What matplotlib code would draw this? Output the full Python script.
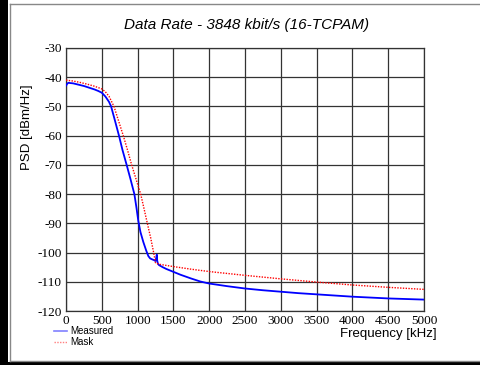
import matplotlib
matplotlib.use("Agg")
import matplotlib.pyplot as plt
from matplotlib.patches import Rectangle
from matplotlib.lines import Line2D

plt.rcParams["axes.unicode_minus"] = False

# ---- data ----
title = "Data Rate - 3848 kbit/s (16-TCPAM)"
xlabel = "Frequency [kHz]"
ylabel = "PSD [dBm/Hz]"
series_names = ["Measured", "Mask"]

measured_f = [0, 15, 33, 60, 100, 150, 200, 250, 300, 350, 400, 450, 500, 550, 600, 630,
              680, 740, 790, 847, 900, 955, 985, 1010, 1040, 1080, 1120, 1150, 1175, 1200,
              1230, 1250, 1262, 1268, 1274, 1285, 1300, 1350, 1400, 1500, 1600, 1750, 1875,
              2000, 2250, 2500, 2750, 3000, 3250, 3500, 3750, 4000, 4250, 4500, 4750, 5000]
measured_db = [-42.9, -42.3, -41.9, -42.0, -42.1, -42.4, -42.7, -43.0, -43.4, -43.8, -44.2, -44.7, -45.3, -46.6, -48.4, -50.0,
               -54.5, -60.0, -65.0, -70.0, -74.8, -80.0, -84.8, -89.2, -93.0, -96.4, -99.3, -101.2, -102.0, -102.3,
               -102.6, -102.9, -101.6, -100.7, -102.8, -103.9, -104.3, -105.0, -105.6, -106.6, -107.6, -108.9, -109.9,
               -110.6, -111.5, -112.3, -112.9, -113.4, -113.9, -114.3, -114.7, -115.1, -115.4, -115.7, -115.9, -116.1]

mask_f = [0, 100, 200, 300, 400, 500, 550, 600, 670, 735, 800, 860, 917, 980, 1043, 1090,
          1136, 1183, 1220, 1250, 1300, 1400, 1500, 1750, 2000, 2500, 3000, 3500, 4000, 4500, 5000]
mask_db = [-41.0, -41.3, -41.8, -42.4, -43.1, -44.0, -45.0, -46.5, -50.0, -55.0, -60.0, -65.0, -70.0, -75.0, -80.0, -85.0,
           -90.0, -95.0, -99.5, -103.5, -104.0, -104.4, -104.8, -105.7, -106.5, -107.8, -109.0, -110.1, -111.1, -111.9, -112.6]

x_ticks = [0, 500, 1000, 1500, 2000, 2500, 3000, 3500, 4000, 4500, 5000]
y_ticks = [-30, -40, -50, -60, -70, -80, -90, -100, -110, -120]

# ---- figure ----
W, H = 480, 365
fig = plt.figure(figsize=(W / 100, H / 100), dpi=100)
fig.patch.set_facecolor("white")

def fx(px):
    return px / W

def fy(py):
    return 1 - py / H

ax = fig.add_axes([fx(66), fy(311), fx(424) - fx(66), fy(48) - fy(311)])
gc = "#333333"
l1, = ax.plot(measured_f, measured_db, color="#0000ff", lw=1.3, label=series_names[0], zorder=3)
l2, = ax.plot(mask_f, mask_db, color="#ff0000", lw=1.0, ls=(0, (1, 1)), label=series_names[1], zorder=3)

ax.set_xlim(0, 5000)
ax.set_ylim(-120, -30)
ax.set_xticks(x_ticks)
ax.set_yticks(y_ticks)
ax.grid(True, color=gc, lw=0.9)
for s in ax.spines.values():
    s.set_color(gc)
    s.set_linewidth(0.9)
ax.tick_params(length=0, pad=3, labelsize=9.5, colors="black")
for lab in ax.get_xticklabels() + ax.get_yticklabels():
    lab.set_family("Liberation Serif")

fig.text(fx(247), fy(25), title, ha="center", va="center", fontsize=11,
         style="italic", family="Liberation Sans")
fig.text(fx(27), fy(127), ylabel, ha="center", va="center", rotation=90,
         fontsize=9.5, family="Liberation Sans")
fig.text(fx(437), fy(334), xlabel, ha="right", va="center",
         fontsize=9.5, family="Liberation Sans")

h1 = Line2D([], [], color="#8080ff", lw=1.2)
h2 = Line2D([], [], color="#ff8080", lw=1.0, ls=(0, (1, 1)))
fig.legend([h1, h2], series_names, loc="upper left",
           bbox_to_anchor=(fx(54), fy(326)), frameon=False,
           prop={"family": "Liberation Sans", "size": 7},
           handlelength=1.3, handletextpad=0.4, labelspacing=0.15,
           borderpad=0, borderaxespad=0)

# frame decorations
fig.add_artist(Rectangle((0, 0), fx(8), 1, transform=fig.transFigure,
                         facecolor="black", edgecolor="none"))
fig.add_artist(Rectangle((0, 0), 1, fy(362), transform=fig.transFigure,
                         facecolor="black", edgecolor="none"))
fig.add_artist(Line2D([fx(10), 1], [fy(3.5), fy(3.5)], transform=fig.transFigure,
                      color="#888888", lw=1.0))
fig.add_artist(Line2D([fx(9.5), fx(9.5)], [fy(3.5), fy(361)], transform=fig.transFigure,
                      color="#888888", lw=1.0))
fig.add_artist(Line2D([fx(9.5), 1], [fy(361), fy(361)], transform=fig.transFigure,
                      color="#888888", lw=1.0))

fig.savefig("out.png", dpi=100, facecolor="white")
